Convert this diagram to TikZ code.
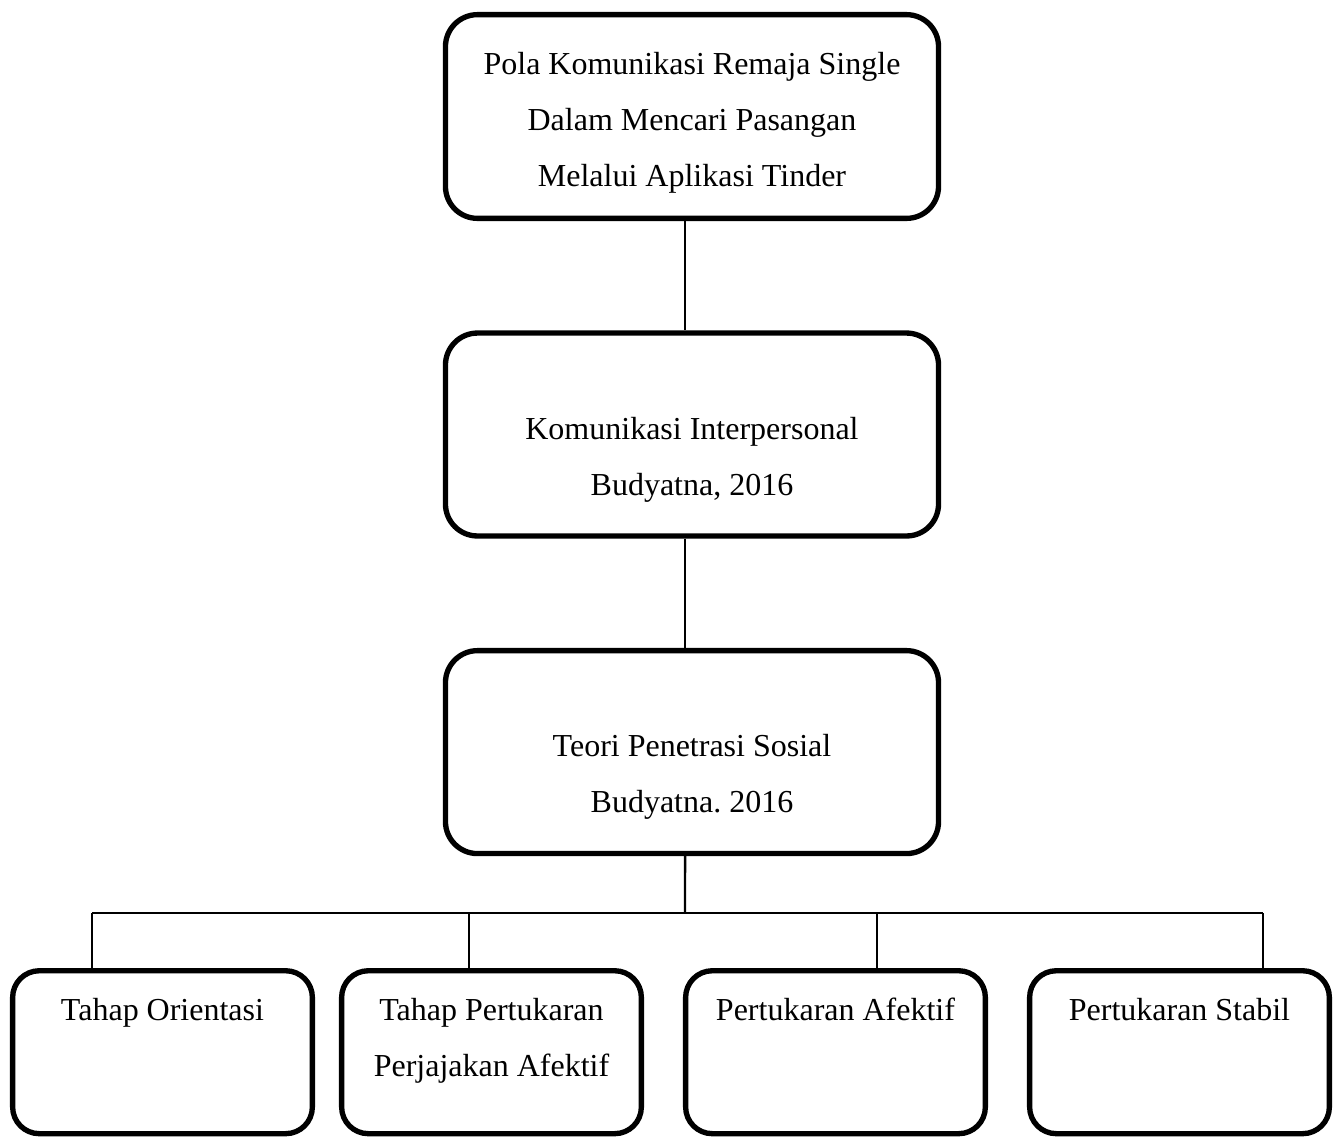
\documentclass[tikz,border=0pt]{standalone}
\usepackage{fontspec}
\setmainfont{Liberation Serif}
\frenchspacing
\usetikzlibrary{positioning}
\tikzstyle{mainbox} = [rectangle, rounded corners=12pt, draw=black, line width=2pt, text width=184.9pt, align=flush center, inner sep=0pt, text height=39.8pt, text depth=36.3pt, font=\fontsize{12}{21}\selectfont]
\tikzstyle{stage} = [rectangle, rounded corners=10pt, draw=black, line width=2pt, text width=112.4pt, align=flush center, inner sep=0pt, text height=18.5pt, text depth=42.6pt, font=\fontsize{12}{21}\selectfont]
\tikzstyle{line} = [line width=0.9pt]

\begin{document}
\begin{tikzpicture}[x=0.375pt, y=-0.375pt, node distance=41pt]
\useasboundingbox (0,0) rectangle (1338,1138);

% Main chain
\node (topic) [mainbox, text height=22.3pt, text depth=54.1pt] at (692,116.5) {Pola Komunikasi Remaja Single\\Dalam Mencari Pasangan\\Melalui Aplikasi Tinder};
\node (interp) [mainbox, below=of topic] {Komunikasi Interpersonal\\Budyatna, 2016};
\node (theory) [mainbox, below=of interp] {Teori Penetrasi Sosial\\Budyatna. 2016};

% Stages
\node (orient) [stage] at (162.5,1052.2) {Tahap Orientasi};
\node (explore) [stage] at (491.5,1052.2) {Tahap Pertukaran\\Perjajakan Afektif};
\node (affect) [stage] at (835.5,1052.2) {Pertukaran Afektif};
\node (stable) [stage] at (1179.5,1052.2) {Pertukaran Stabil};

% Bus
\coordinate (bus) at (685,913);
\coordinate (b1) at (92,913);
\coordinate (b2) at (469,913);
\coordinate (b3) at (877,913);
\coordinate (b4) at (1263,913);

% Lines
\draw [line] ([xshift=-2.6pt]topic.south) -- ([xshift=-2.6pt]interp.north);
\draw [line] ([xshift=-2.6pt]interp.south) -- ([xshift=-2.6pt]theory.north);
\draw [line] ([xshift=-2.6pt]theory.south) -- (bus);
\draw [line] (b1) -- (b4);
\draw [line] (b1) -- (b1 |- orient.north);
\draw [line] (b2) -- (b2 |- explore.north);
\draw [line] (b3) -- (b3 |- affect.north);
\draw [line] (b4) -- (b4 |- stable.north);

\end{tikzpicture}
\end{document}
